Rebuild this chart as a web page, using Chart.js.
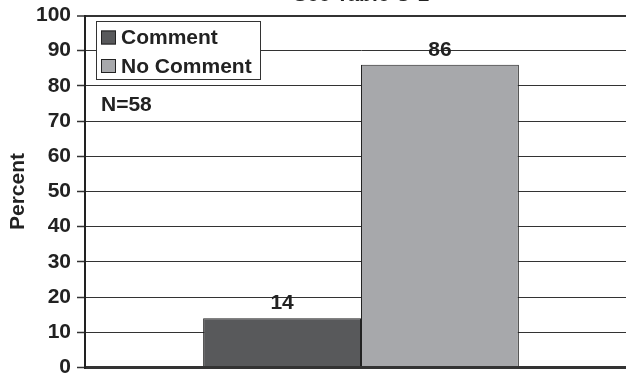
<!DOCTYPE html>
<html>
<head>
<meta charset="utf-8">
<script src="https://cdn.jsdelivr.net/npm/chart.js@4"></script>
<style>
	html, body { margin: 0; padding: 0; overflow: hidden; background: #fff; }
	.chart_wrap { position: absolute; left: 0; top: 0; width: 640px; height: 385px; }
</style>
</head>
<body>
<div class="chart_wrap"><canvas id="chart_comment" width="640" height="385"></canvas></div>
<script>
const categories = [''];
const seriesNames = ['Comment', 'No Comment'];
const commentData = [14];
const noCommentData = [86];
const yTicks = [0, 10, 20, 30, 40, 50, 60, 70, 80, 90, 100];
const chartTitle = 'See Table C-1';
const noteText = 'N=58';

const FONT = "'Liberation Sans', Arial, Helvetica, sans-serif";

// title, legend box, N note and value labels
const extras = {
	id: 'extras',
	afterDatasetsDraw(chart) {
		const ctx = chart.ctx;
		const area = chart.chartArea;
		ctx.save();
		ctx.font = 'bold 21px ' + FONT;
		ctx.fillStyle = '#222';
		ctx.textBaseline = 'alphabetic';

		// value labels above bars
		chart.data.datasets.forEach((ds, i) => {
			chart.getDatasetMeta(i).data.forEach((bar, j) => {
				ctx.textAlign = 'center';
				ctx.fillText(String(ds.data[j]), bar.x, bar.y - 9);
			});
		});

		// title (mostly cut off by the top edge)
		ctx.textAlign = 'center';
		ctx.fillText(chartTitle, (area.left + area.right) / 2, area.top - 14.5);

		// legend box
		const bx = area.left + 11;
		const by = area.top + 5.5;
		ctx.fillStyle = '#fff';
		ctx.fillRect(bx, by, 164, 58);
		ctx.strokeStyle = '#333';
		ctx.lineWidth = 1;
		ctx.strokeRect(bx + 0.5, by + 0.5, 164, 58);
		ctx.textAlign = 'left';
		ctx.textBaseline = 'middle';
		chart.data.datasets.forEach((ds, i) => {
			const rowY = by + 16.5 + i * 28.5;
			ctx.fillStyle = ds.backgroundColor;
			ctx.fillRect(bx + 5, rowY - 7, 15, 14);
			ctx.strokeStyle = '#222';
			ctx.strokeRect(bx + 5.5, rowY - 6.5, 14, 13);
			ctx.fillStyle = '#222';
			ctx.fillText(ds.label, bx + 25, rowY + 1);
		});

		// N note
		ctx.fillText(noteText, area.left + 16, area.top + 90);
		ctx.restore();
	},
};

const canvas = document.getElementById('chart_comment');

const chartComment = new Chart(canvas, {
	type: 'bar',
	data: {
		labels: categories,
		datasets: [
			{
				label: seriesNames[0],
				data: commentData,
				backgroundColor: '#58595b',
				borderColor: '#222',
				borderWidth: 1,
			},
			{
				label: seriesNames[1],
				data: noCommentData,
				backgroundColor: '#a7a8ab',
				borderColor: '#222',
				borderWidth: 1,
			},
		],
	},
	plugins: [extras],
	options: {
		responsive: false,
		animation: false,
		devicePixelRatio: 1,
		categoryPercentage: 0.572,
		barPercentage: 1,
		layout: {
			padding: { top: 15.5, left: 0, right: 3, bottom: 17.5 },
		},
		plugins: {
			legend: { display: false },
			title: { display: false },
			tooltip: { enabled: false },
		},
		scales: {
			x: {
				display: false,
				grid: { display: false },
			},
			y: {
				min: 0,
				max: 100,
				afterBuildTicks: scale => {
					scale.ticks = yTicks.map(v => ({ value: v }));
				},
				afterFit: scale => {
					scale.width = 85;
					scale.paddingTop = 0;
					scale.paddingBottom = 0;
				},
				border: { color: '#222', width: 2 },
				grid: {
					color: '#333',
					tickColor: '#333',
					tickLength: 8,
					tickWidth: 1.5,
					lineWidth: ctx => (ctx.tick && ctx.tick.value === 0 ? 3 : ctx.tick && ctx.tick.value === 100 ? 2 : 1),
				},
				ticks: {
					color: '#222',
					padding: 6,
					font: { family: FONT, size: 21, weight: 'bold' },
				},
				title: {
					display: true,
					text: 'Percent',
					color: '#222',
					font: { family: FONT, size: 21, weight: 'bold' },
					padding: { top: 6, bottom: 0 },
				},
			},
		},
	},
});
</script>
</body>
</html>
